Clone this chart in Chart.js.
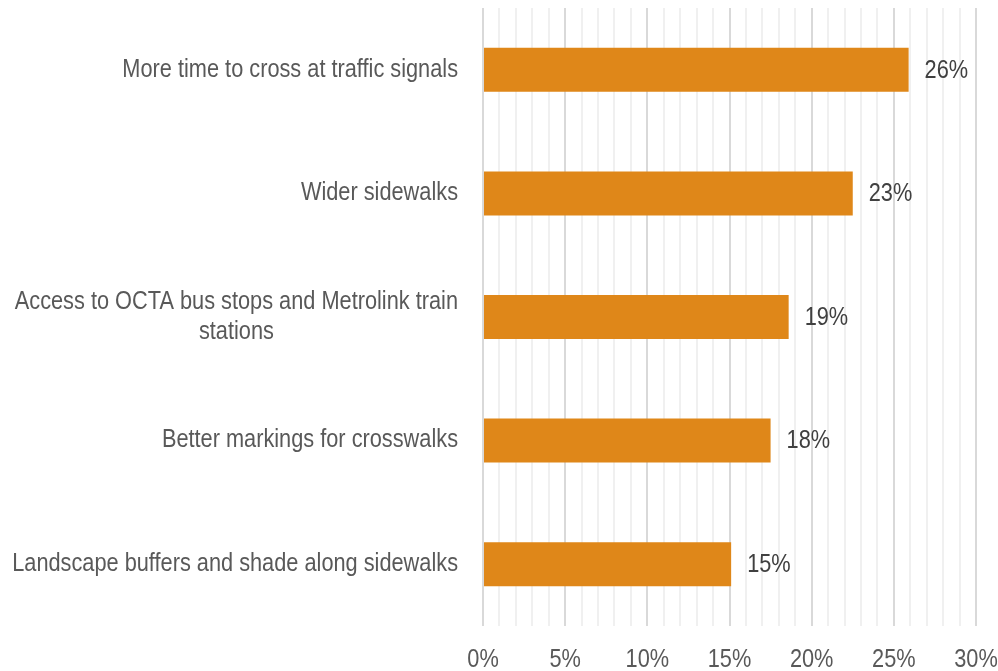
<!DOCTYPE html>
<html>
<head>
<meta charset="utf-8">
<script src="https://cdn.jsdelivr.net/npm/chart.js@4"></script>
<style>
  html, body { margin: 0; padding: 0; background: #fff; }
  #wrap { width: 998px; height: 671px; position: relative; }
</style>
</head>
<body>
<div id="wrap"><canvas id="chart"></canvas></div>
<script>
const categories = [
    ['More time to cross at traffic signals'],
    ['Wider sidewalks'],
    ['Access to OCTA bus stops and Metrolink train', 'stations'],
    ['Better markings for crosswalks'],
    ['Landscape buffers and shade along sidewalks']
];
const shares = [25.9, 22.5, 18.6, 17.5, 15.1];
const shareLabels = ['26%', '23%', '19%', '18%', '15%'];
const xTicks = [0, 5, 10, 15, 20, 25, 30];

const FONT = "'Liberation Sans', Arial, sans-serif";
const TEXT = '#595959';
const NARROW = 0.87; // no narrow font installed, squeeze a regular one

// draw text squeezed horizontally, x is the anchor for the given alignment
function narrowText(ctx, txt, x, y, align) {
    const w = ctx.measureText(txt).width * NARROW;
    let left = x;
    if (align === 'right') left = x - w;
    if (align === 'center') left = x - w / 2;
    ctx.save();
    ctx.translate(left, y);
    ctx.scale(NARROW, 1);
    ctx.textAlign = 'left';
    ctx.fillText(txt, 0, 0);
    ctx.restore();
}

const textPlugin = {
    id: 'texts',
    afterDraw(chart) {
        const ctx = chart.ctx;
        const y = chart.scales.y;
        const x = chart.scales.x;
        const area = chart.chartArea;
        ctx.save();
        ctx.font = '25px ' + FONT;
        ctx.textBaseline = 'middle';

        // category labels, wrapped lines centred on each other like Excel
        ctx.fillStyle = TEXT;
        const right = area.left - 25;
        categories.forEach((lines, i) => {
            const cy = y.getPixelForValue(i);
            const w = Math.max(...lines.map(l => ctx.measureText(l).width)) * NARROW;
            lines.forEach((l, j) => {
                narrowText(ctx, l, right - w / 2, cy + (j - (lines.length - 1) / 2) * 30, 'center');
            });
        });

        // x tick labels
        xTicks.forEach(v => {
            narrowText(ctx, v + '%', x.getPixelForValue(v), 660, 'center');
        });

        // value labels
        ctx.fillStyle = '#404040';
        chart.getDatasetMeta(0).data.forEach((bar, i) => {
            narrowText(ctx, shareLabels[i], bar.x + 16, bar.y + 1, 'left');
        });
        ctx.restore();
    }
};

new Chart(document.getElementById('chart').getContext('2d'), {
    type: 'bar',
    data: {
        labels: categories.map(c => c.join(' ')),
        datasets: [{
            data: shares,
            backgroundColor: '#df8719',
            borderWidth: 0,
            categoryPercentage: 1,
            barPercentage: 0.356
        }]
    },
    options: {
        indexAxis: 'y',
        responsive: true,
        maintainAspectRatio: false,
        animation: false,
        layout: { padding: { top: 8, right: 22, left: 0, bottom: 0 } },
        plugins: {
            legend: { display: false },
            tooltip: { enabled: false }
        },
        scales: {
            x: {
                min: 0,
                max: 30,
                border: { display: false },
                grid: {
                    drawTicks: false,
                    lineWidth: 2,
                    color: ctx => (ctx.tick && ctx.tick.value % 5 === 0) ? '#d9d9d9' : '#f0f0f0'
                },
                ticks: { stepSize: 1, autoSkip: false, display: false },
                afterFit: s => { s.height = 45; }
            },
            y: {
                border: { display: false },
                grid: { display: false },
                ticks: { display: false },
                afterFit: s => { s.width = 483; }
            }
        }
    },
    plugins: [textPlugin]
});
</script>
</body>
</html>
